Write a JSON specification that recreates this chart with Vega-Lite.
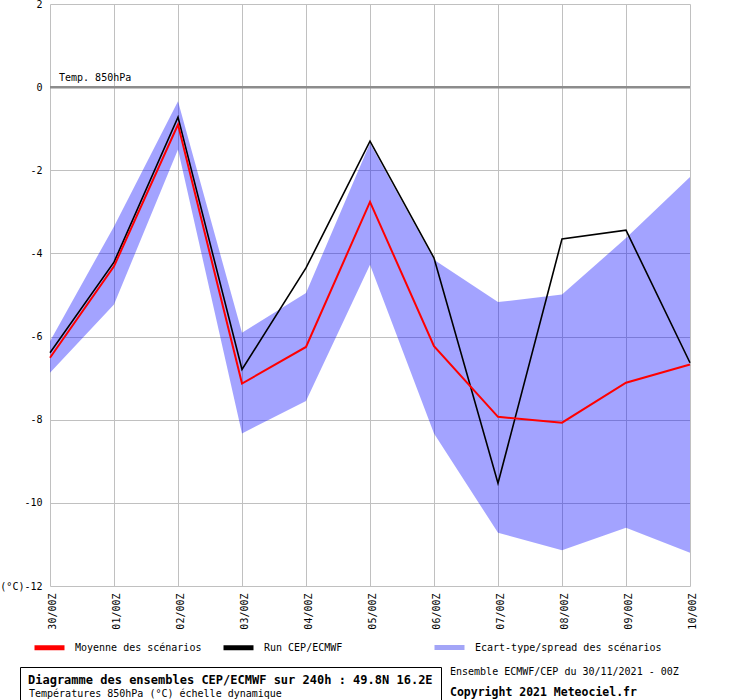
{
  "$schema": "https://vega.github.io/schema/vega-lite/v6.json",
  "width": 640,
  "height": 582,
  "autosize": {"type": "none"},
  "padding": {"left": 50, "top": 4, "right": 50, "bottom": 114},
  "background": "white",
  "config": {
    "view": {"stroke": null},
    "font": "DejaVu Sans Mono",
    "axis": {
      "labelFont": "DejaVu Sans Mono",
      "labelFontSize": 10,
      "labelColor": "#000000",
      "gridColor": "#c0c0c0",
      "gridWidth": 1,
      "gridOpacity": 1,
      "domain": false,
      "ticks": false,
      "title": null
    },
    "legend": {
      "labelFont": "DejaVu Sans Mono",
      "labelFontSize": 10,
      "labelColor": "#000000",
      "titleFont": "DejaVu Sans Mono",
      "labelLimit": 600,
      "titleLimit": 600
    }
  },
  "datasets": {
    "ens": [
      {"t": "30/00Z", "mean": -6.51, "run": -6.39, "lo": -6.87, "hi": -6.11},
      {"t": "01/00Z", "mean": -4.31, "run": -4.21, "lo": -5.23, "hi": -3.35},
      {"t": "02/00Z", "mean": -0.90, "run": -0.72, "lo": -1.50, "hi": -0.34},
      {"t": "03/00Z", "mean": -7.13, "run": -6.79, "lo": -8.33, "hi": -5.91},
      {"t": "04/00Z", "mean": -6.25, "run": -4.35, "lo": -7.55, "hi": -4.95},
      {"t": "05/00Z", "mean": -2.76, "run": -1.30, "lo": -4.27, "hi": -1.35},
      {"t": "06/00Z", "mean": -6.23, "run": -4.11, "lo": -8.33, "hi": -4.15},
      {"t": "07/00Z", "mean": -7.93, "run": -9.53, "lo": -10.72, "hi": -5.17},
      {"t": "08/00Z", "mean": -8.07, "run": -3.65, "lo": -11.14, "hi": -4.99},
      {"t": "09/00Z", "mean": -7.11, "run": -3.44, "lo": -10.60, "hi": -3.63},
      {"t": "10/00Z", "mean": -6.67, "run": -6.63, "lo": -11.20, "hi": -2.16}
    ],
    "notes": [
      {"t": "30/00Z", "v": 0, "label": "Temp. 850hPa", "info": "Ensemble ECMWF/CEP du 30/11/2021 - 00Z", "desc": "Températures 850hPa (°C) échelle dynamique"}
    ]
  },
  "layer": [
    {
      "data": {"name": "ens"},
      "mark": {"type": "area", "fillOpacity": 0.36},
      "encoding": {
        "x": {
          "field": "t", "type": "ordinal",
          "scale": {"type": "point", "padding": 0},
          "sort": null,
          "axis": {"labelAngle": -90, "labelPadding": 7, "grid": true, "labelOffset": 2}
        },
        "y": {
          "field": "lo", "type": "quantitative",
          "scale": {"domain": [-12, 2], "nice": false, "zero": false},
          "axis": {
            "values": [-12, -10, -8, -6, -4, -2, 0, 2],
            "grid": true,
            "labelPadding": 8,
            "labelExpr": "datum.value == -12 ? '(°C)-12' : '' + datum.value"
          }
        },
        "y2": {"field": "hi"},
        "fill": {
          "datum": "Ecart-type/spread des scénarios",
          "scale": {"range": ["#0000ff"]},
          "legend": {
            "orient": "none", "legendX": 382, "legendY": 626, "title": null,
            "symbolType": "stroke", "symbolSize": 900, "symbolStrokeWidth": 5,
            "symbolStrokeColor": "#a3a5f7", "labelOffset": 8
          }
        }
      }
    },
    {
      "data": {"name": "notes"},
      "mark": {"type": "rule", "color": "#8c8c8c", "strokeWidth": 2.5},
      "encoding": {
        "y": {"field": "v", "type": "quantitative"},
        "strokeDash": {
          "field": "desc", "type": "nominal",
          "scale": {"range": [[1, 0]]},
          "legend": {
            "orient": "none", "legendX": -30, "legendY": 663, "title": "Diagramme des ensembles CEP/ECMWF sur 240h : 49.8N 16.2E",
            "titleFontSize": 12, "titleFontWeight": "bold", "titleColor": "#000000",
            "titlePadding": 2, "symbolSize": 1, "symbolOpacity": 0, "symbolStrokeWidth": 0, "labelOffset": -9,
            "padding": 8, "strokeColor": "#000000"
          }
        }
      }
    },
    {
      "data": {"name": "ens"},
      "mark": {"type": "line", "strokeWidth": 1.6},
      "encoding": {
        "x": {"field": "t", "type": "ordinal", "sort": null},
        "y": {"field": "run", "type": "quantitative"},
        "color": {
          "datum": "Run CEP/ECMWF",
          "scale": {"domain": ["Moyenne des scénarios", "Run CEP/ECMWF"], "range": ["#ff0000", "#000000"]},
          "legend": {
            "orient": "none", "direction": "horizontal", "legendX": -18, "legendY": 626, "title": null,
            "symbolType": "stroke", "symbolSize": 900, "symbolStrokeWidth": 5,
            "labelOffset": 8, "columnPadding": 11
          }
        }
      }
    },
    {
      "data": {"name": "ens"},
      "mark": {"type": "line", "strokeWidth": 2},
      "encoding": {
        "x": {"field": "t", "type": "ordinal", "sort": null},
        "y": {"field": "mean", "type": "quantitative"},
        "color": {"datum": "Moyenne des scénarios"}
      }
    },
    {
      "data": {"name": "notes"},
      "mark": {"type": "text", "align": "left", "baseline": "bottom", "dx": 9, "dy": -4, "fontSize": 10, "font": "DejaVu Sans Mono", "color": "#000000"},
      "encoding": {
        "x": {"field": "t", "type": "ordinal", "sort": null},
        "y": {"field": "v", "type": "quantitative"},
        "text": {"field": "label"},
        "opacity": {
          "field": "info", "type": "nominal",
          "scale": {"range": [1, 1]},
          "legend": {
            "orient": "none", "legendX": 400, "legendY": 663, "title": "Copyright 2021 Meteociel.fr",
            "titleOrient": "bottom", "titleFontSize": 11.5, "titleFontWeight": "bold", "titleColor": "#000000",
            "titlePadding": 10, "symbolSize": 1, "symbolFillColor": "#ffffff", "symbolStrokeColor": "#ffffff",
            "symbolStrokeWidth": 0, "labelOffset": -10, "padding": 0
          }
        }
      }
    }
  ]
}
